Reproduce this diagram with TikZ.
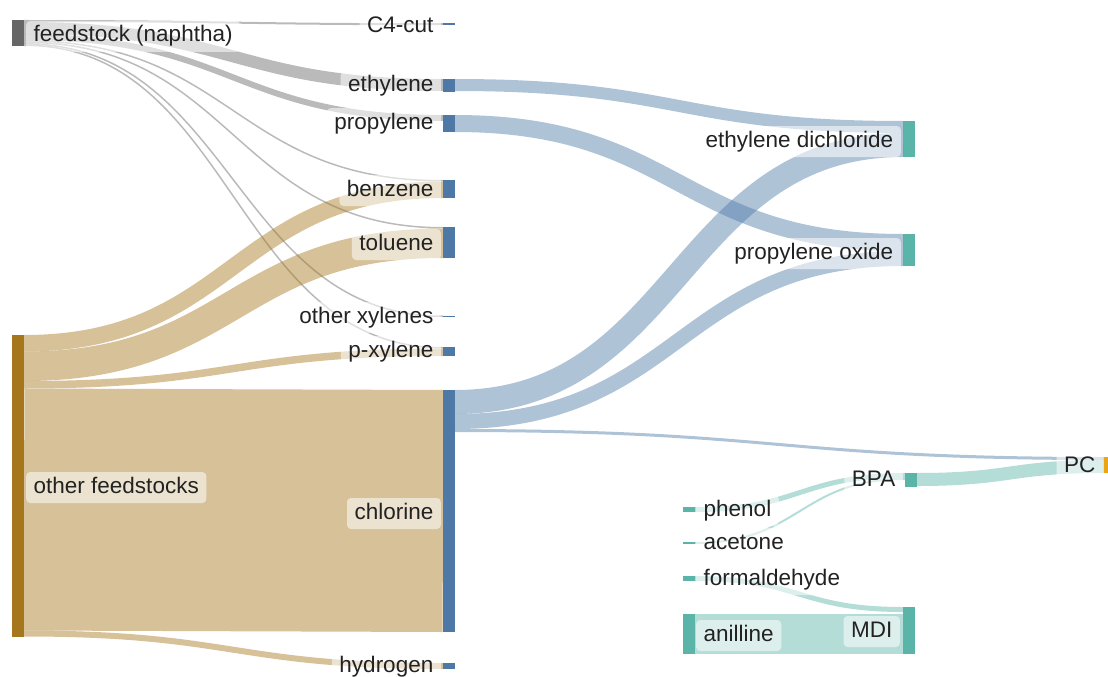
\documentclass[tikz,border=0pt]{standalone}
\usepackage{fontspec}
\setmainfont{Liberation Sans}
\usetikzlibrary{calc}
\definecolor{gr}{HTML}{666666}
\definecolor{br}{HTML}{A6761D}
\definecolor{bl}{HTML}{4E79A7}
\definecolor{tl}{HTML}{5AB4A8}
\definecolor{og}{HTML}{EBA416}
\definecolor{tx}{HTML}{222222}
% #1 style, #2 width, #3 source node, #4 offset of link centre below source top,
% #5 target node, #6 offset of link centre below target top
\newcommand\sklink[6]{%
  \draw[#1, line width=#2pt] let \p1=($(#3.north east)+(0,#4)$), \p2=($(#5.north west)+(0,#6)$) in
    (\p1) .. controls ({0.5*\x1+0.5*\x2},\y1) and ({0.5*\x1+0.5*\x2},\y2) .. (\p2);}
\begin{document}
\begin{tikzpicture}[x=1pt,y=-1pt,
  bar/.style={rectangle, inner sep=0pt, outer sep=0pt, minimum width=12pt, anchor=north west, draw=none},
  lnk/.style={draw=#1, draw opacity=0.45},
  lbl/.style={rounded corners=4pt, fill=white, fill opacity=0.55, text opacity=1, text=tx,
    font=\fontsize{22.5}{26}\selectfont, inner xsep=7.5pt, inner ysep=5pt, text height=16pt, text depth=5pt},
]
\useasboundingbox (0,0) rectangle (1108,677);

% ---------- nodes (bars) ----------
\node[bar, fill=gr, minimum height=26pt] (nap) at (12,20) {};
\node[bar, fill=br, minimum height=302pt] (of) at (12,335) {};

\node[bar, fill=bl, minimum height=2.5pt] (c4) at (443,23) {};
\node[bar, fill=bl, minimum height=12.5pt] (eth) at (443,79) {};
\node[bar, fill=bl, minimum height=17pt] (prop) at (443,115) {};
\node[bar, fill=bl, minimum height=18pt] (benz) at (443,180) {};
\node[bar, fill=bl, minimum height=31pt] (tol) at (443,227) {};
\node[bar, fill=bl, minimum height=1.5pt] (ox) at (443,315.5) {};
\node[bar, fill=bl, minimum height=9pt] (px) at (443,347) {};
\node[bar, fill=bl, minimum height=242pt] (chl) at (443,390) {};
\node[bar, fill=bl, minimum height=6pt] (h2) at (443,663) {};

\node[bar, fill=tl, minimum height=36pt] (edc) at (903,121) {};
\node[bar, fill=tl, minimum height=32pt] (po) at (903,234) {};
\node[bar, fill=tl, minimum height=14pt] (bpa) at (905,473) {};
\node[bar, fill=tl, minimum height=47pt] (mdi) at (903,607) {};

\node[bar, fill=tl, minimum height=5pt] (phen) at (683,507) {};
\node[bar, fill=tl, minimum height=2pt] (acet) at (683,542) {};
\node[bar, fill=tl, minimum height=5pt] (form) at (683,576) {};
\node[bar, fill=tl, minimum height=40pt] (anil) at (683,614) {};

\node[bar, fill=og, minimum height=16pt, minimum width=5pt] (pc) at (1103.5,457) {};

% ---------- links ----------
\sklink{lnk=gr}{2}{nap}{1}{c4}{1.25}
\sklink{lnk=gr}{12}{nap}{8}{eth}{6}
\sklink{lnk=gr}{6}{nap}{17}{prop}{3}
\sklink{lnk=gr}{1.5}{nap}{20.75}{benz}{0.75}
\sklink{lnk=gr}{1.5}{nap}{22.25}{tol}{0.75}
\sklink{lnk=gr}{1.5}{nap}{23.75}{ox}{0.75}
\sklink{lnk=gr}{1.5}{nap}{25.25}{px}{0.75}

\sklink{lnk=br}{16.5}{of}{8.25}{benz}{9.75}
\sklink{lnk=br}{29.5}{of}{31.25}{tol}{16.25}
\sklink{lnk=br}{7.5}{of}{49.75}{px}{5.25}
\sklink{lnk=br}{242}{of}{174.5}{chl}{121}
\sklink{lnk=br}{6}{of}{298.5}{h2}{3}

\sklink{lnk=bl}{12}{eth}{6}{edc}{6}
\sklink{lnk=bl}{17}{prop}{8.5}{po}{8.5}
\sklink{lnk=bl}{24}{chl}{12}{edc}{24}
\sklink{lnk=bl}{15}{chl}{31.5}{po}{24.5}
\sklink{lnk=bl}{3}{chl}{40.5}{pc}{1.5}

\sklink{lnk=tl}{13}{bpa}{6.5}{pc}{9.5}
\sklink{lnk=tl}{5}{phen}{2.5}{bpa}{2.5}
\sklink{lnk=tl}{2}{acet}{1}{bpa}{6}
\sklink{lnk=tl}{5}{form}{2.5}{mdi}{2.5}
\sklink{lnk=tl}{40}{anil}{20}{mdi}{27}

% ---------- labels ----------
\node[lbl, anchor=base west] (lnap) at (26,42) {feedstock (naphtha)};
\node[lbl, anchor=base west] (lof) at (26,493) {other feedstocks};
\node[lbl, anchor=base east] (lc4) at (441,33) {C4-cut};
\node[lbl, anchor=base east] (leth) at (441,92) {ethylene};
\node[lbl, anchor=base east] (lprop) at (441,129) {propylene};
\node[lbl, anchor=base east] (lbenz) at (441,196) {benzene};
\node[lbl, anchor=base east] (ltol) at (441,250) {toluene};
\node[lbl, anchor=base east] (lox) at (441,323) {other xylenes};
\node[lbl, anchor=base east] (lpx) at (441,357) {p-xylene};
\node[lbl, anchor=base east] (lchl) at (441,519) {chlorine};
\node[lbl, anchor=base east] (lh2) at (441,672) {hydrogen};
\node[lbl, anchor=base east] (ledc) at (901,147) {ethylene dichloride};
\node[lbl, anchor=base east] (lpo) at (901,259) {propylene oxide};
\node[lbl, anchor=base east] (lbpa) at (903,486) {BPA};
\node[lbl, anchor=base east] (lpc) at (1103,472) {PC};
\node[lbl, anchor=base east] (lmdi) at (900,637) {MDI};
\node[lbl, anchor=base west] (lphen) at (696,516) {phenol};
\node[lbl, anchor=base west] (lacet) at (696,549) {acetone};
\node[lbl, anchor=base west] (lform) at (696,585) {formaldehyde};
\node[lbl, anchor=base west] (lanil) at (696,641) {anilline};
\end{tikzpicture}
\end{document}
